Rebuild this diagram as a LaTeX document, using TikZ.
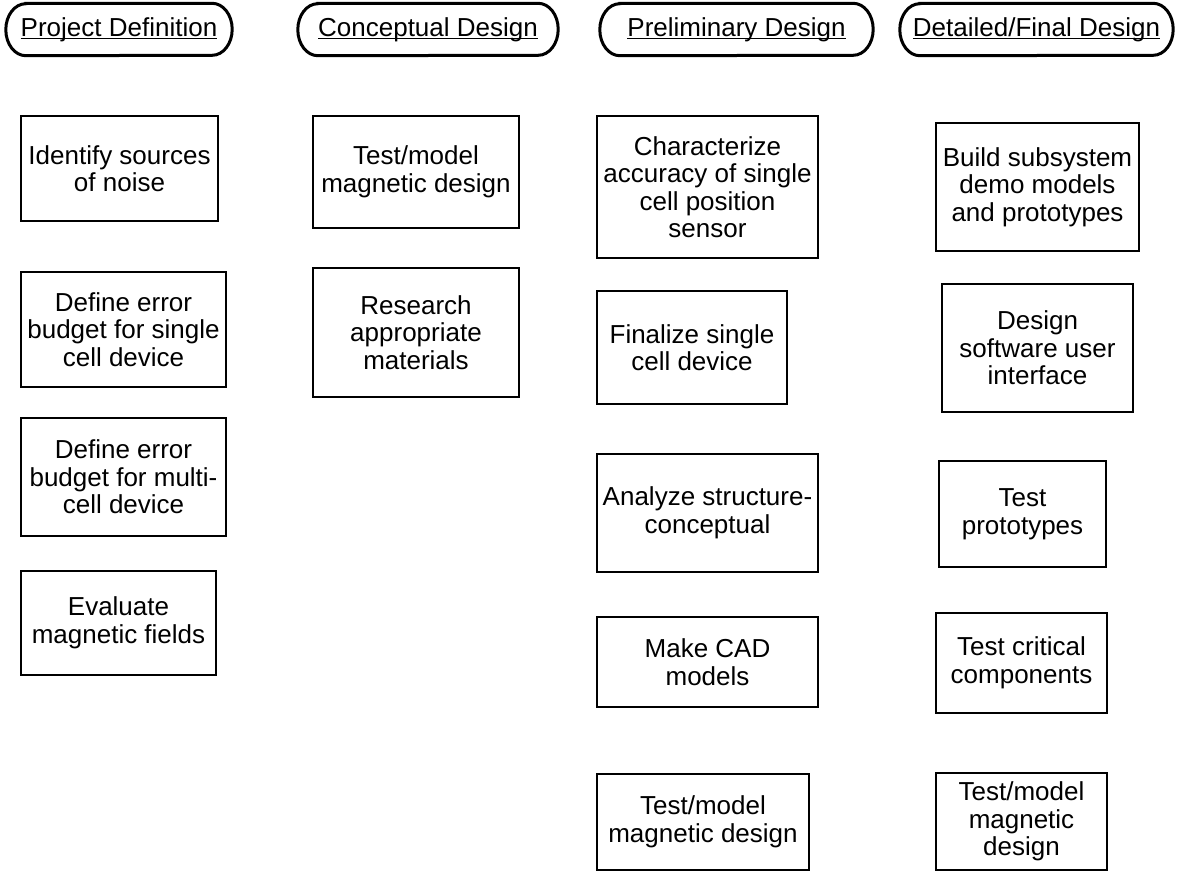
\documentclass[tikz,border=0pt]{standalone}
\usepackage{fontspec}
\setmainfont{Liberation Sans}
\usetikzlibrary{calc}
\newcommand\hdrul[1]{\setbox0=\hbox{#1}\rlap{\rule[-3pt]{\wd0}{1.4pt}}\box0}
\tikzset{
  bx/.style={draw=black, line width=1.4pt, rectangle, inner sep=0pt, align=center,
    font=\fontsize{26}{27.5}\selectfont},
  hdr/.style={rectangle, inner sep=0pt, minimum height=52pt,
    font=\fontsize{26}{27.5}\selectfont},
  hdrline/.style={draw=black, line width=3pt}
}
\begin{document}
\begin{tikzpicture}[x=1pt,y=-1pt]
\fill[white] (0,0) rectangle (1178,878);
\useasboundingbox (0,0) rectangle (1178,878);
% headers
\node[hdr, minimum width=226pt] (h1) at (119,29.5) {\hdrul{Project Definition}};
\node[hdr, minimum width=260pt] (h2) at (428,29.5) {\hdrul{Conceptual Design}};
\node[hdr, minimum width=273pt] (h3) at (736.5,29.5) {\hdrul{Preliminary Design}};
\node[hdr, minimum width=273pt] (h4) at (1036.5,29.5) {\hdrul{Detailed/Final Design}};
\foreach \n in {h1,h2,h3,h4}{
  \draw[hdrline] ($(\n.north west)+(20pt,0pt)$) -- ($(\n.north east)+(-20pt,0pt)$)
    arc[start angle=90, end angle=-90, x radius=20pt, y radius=26pt]
    -- ($(\n.south west)+(20pt,0pt)$)
    arc[start angle=270, end angle=90, x radius=20pt, y radius=26pt] -- cycle;
}
% column 1
\node[bx, minimum width=197pt, minimum height=105pt] (p1) at (119.5,168.5) {Identify sources\\of noise};
\node[bx, minimum width=205pt, minimum height=115pt] (p2) at (123.5,329.5) {Define error\\budget for single\\cell device};
\node[bx, minimum width=205pt, minimum height=118pt] (p3) at (123.5,477) {Define error\\budget for multi-\\cell device};
\node[bx, minimum width=195pt, minimum height=104pt] (p4) at (118.5,623) {Evaluate\\magnetic fields};
% column 2
\node[bx, minimum width=206pt, minimum height=112pt] (c1) at (416,172) {Test/model\\magnetic design};
\node[bx, minimum width=206pt, minimum height=129pt] (c2) at (416,332.5) {Research\\appropriate\\materials};
% column 3
\node[bx, minimum width=221pt, minimum height=142pt] (r1) at (707.5,187) {Characterize\\accuracy of single\\cell position\\sensor};
\node[bx, minimum width=190pt, minimum height=113pt] (r2) at (692,347.5) {Finalize single\\cell device};
\node[bx, minimum width=221pt, minimum height=118pt] (r3) at (707.5,513) {Analyze structure-\\conceptual};
\node[bx, minimum width=221pt, minimum height=90pt] (r4) at (707.5,662) {Make CAD\\models};
\node[bx, minimum width=212pt, minimum height=96pt] (r5) at (703,822) {Test/model\\magnetic design};
% column 4
\node[bx, minimum width=203pt, minimum height=128pt] (d1) at (1037.5,187) {Build subsystem\\demo models\\and prototypes};
\node[bx, minimum width=191pt, minimum height=128pt] (d2) at (1037.5,348) {Design\\software user\\interface};
\node[bx, minimum width=167pt, minimum height=106pt] (d3) at (1022.5,514) {Test\\prototypes};
\node[bx, minimum width=171pt, minimum height=100pt] (d4) at (1021.5,663) {Test critical\\components};
\node[bx, minimum width=171pt, minimum height=97pt] (d5) at (1021.5,821.5) {Test/model\\magnetic\\design};
\end{tikzpicture}
\end{document}
